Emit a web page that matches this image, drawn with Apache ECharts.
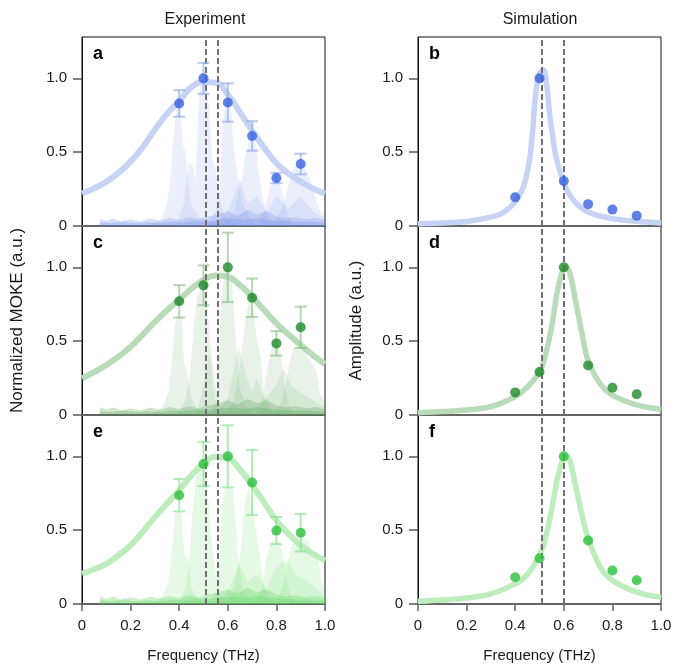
<!DOCTYPE html>
<html>
<head>
<meta charset="utf-8">
<script src="https://cdn.jsdelivr.net/npm/echarts@6/dist/echarts.min.js"></script>
<style>
  html, body { margin: 0; padding: 0; background: #fff; }
  #chart { width: 676px; height: 667px; }
</style>
</head>
<body>
<div id="chart"></div>
<script>
// excitation frequencies (THz)
const freqs = [0.4, 0.5, 0.6, 0.7, 0.8, 0.9];

// experiment: normalized MOKE amplitude and error
const expA = [0.83, 1.0, 0.836, 0.61, 0.325, 0.42];
const errA = [0.09, 0.105, 0.13, 0.1, 0.035, 0.07];
const expC = [0.77, 0.878, 1.0, 0.794, 0.485, 0.594];
const errC = [0.11, 0.135, 0.235, 0.13, 0.083, 0.14];
const expE = [0.737, 0.948, 1.0, 0.823, 0.497, 0.483];
const errE = [0.11, 0.15, 0.21, 0.22, 0.092, 0.127];

// fitted curves of the experiment panels
const fitX = [0, 0.05, 0.1, 0.15, 0.2, 0.25, 0.3, 0.35, 0.4, 0.45, 0.5, 0.55, 0.6, 0.65, 0.7, 0.75, 0.8, 0.85, 0.9, 0.95, 1.0];
const fitA = [0.22, 0.255, 0.30, 0.36, 0.436, 0.535, 0.652, 0.76, 0.845, 0.94, 0.975, 0.97, 0.89, 0.77, 0.645, 0.53, 0.425, 0.355, 0.30, 0.255, 0.22];
const fitC = [0.248, 0.29, 0.338, 0.395, 0.462, 0.545, 0.63, 0.71, 0.78, 0.855, 0.914, 0.945, 0.936, 0.88, 0.80, 0.71, 0.62, 0.545, 0.474, 0.405, 0.345];
const fitE = [0.204, 0.235, 0.272, 0.33, 0.397, 0.49, 0.589, 0.68, 0.771, 0.87, 0.952, 0.995, 0.986, 0.91, 0.805, 0.685, 0.567, 0.475, 0.397, 0.34, 0.295];

// simulation amplitudes
const simB = [0.195, 1.0, 0.305, 0.148, 0.111, 0.07];
const simD = [0.153, 0.291, 1.0, 0.336, 0.185, 0.14];
const simF = [0.181, 0.31, 1.0, 0.43, 0.227, 0.161];

const simCurveB = [[0,0.016],[0.1,0.02],[0.2,0.03],[0.3,0.06],[0.35,0.09],[0.4,0.165],[0.43,0.25],[0.445,0.33],[0.46,0.46],[0.472,0.65],[0.486,0.92],[0.5,1.03],[0.516,1.057],[0.53,0.95],[0.541,0.77],[0.555,0.6],[0.568,0.47],[0.6,0.29],[0.64,0.175],[0.7,0.095],[0.8,0.05],[0.9,0.032],[1.0,0.02]];
const simCurveD = [[0,0.016],[0.1,0.023],[0.2,0.034],[0.3,0.056],[0.4,0.124],[0.45,0.19],[0.5,0.29],[0.525,0.41],[0.55,0.6],[0.575,0.85],[0.6,0.995],[0.61,1.0],[0.625,0.96],[0.65,0.76],[0.675,0.55],[0.7,0.37],[0.75,0.21],[0.8,0.135],[0.9,0.068],[1.0,0.038]];
const simCurveF = [[0,0.018],[0.1,0.027],[0.2,0.04],[0.3,0.068],[0.4,0.136],[0.45,0.2],[0.5,0.33],[0.525,0.45],[0.55,0.64],[0.575,0.86],[0.6,0.995],[0.61,1.0],[0.625,0.97],[0.65,0.79],[0.675,0.6],[0.7,0.45],[0.75,0.25],[0.8,0.16],[0.9,0.08],[1.0,0.045]];

// measured spectra (shaded), one per excitation
const specA = [
  [[0.28,0.01],[0.32,0.04],[0.34,0.1],[0.36,0.25],[0.375,0.55],[0.388,0.8],[0.405,0.81],[0.415,0.55],[0.425,0.5],[0.437,0.3],[0.45,0.14],[0.48,0.06],[0.55,0.02],[0.6,0]],
  [[0.39,0.02],[0.42,0.15],[0.44,0.43],[0.458,0.4],[0.468,0.3],[0.478,0.75],[0.488,0.98],[0.512,0.98],[0.525,0.75],[0.535,0.45],[0.548,0.4],[0.563,0.2],[0.585,0.08],[0.62,0.02],[0.65,0]],
  [[0.52,0.02],[0.55,0.1],[0.567,0.25],[0.578,0.65],[0.588,0.82],[0.612,0.83],[0.622,0.55],[0.632,0.45],[0.645,0.3],[0.66,0.15],[0.69,0.05],[0.72,0]],
  [[0.59,0.02],[0.625,0.1],[0.655,0.3],[0.675,0.5],[0.693,0.6],[0.712,0.58],[0.728,0.35],[0.745,0.18],[0.765,0.06],[0.8,0]],
  [[0.72,0.02],[0.75,0.1],[0.772,0.25],[0.792,0.32],[0.812,0.3],[0.828,0.2],[0.845,0.08],[0.87,0]],
  [[0.79,0.02],[0.825,0.12],[0.852,0.3],[0.873,0.4],[0.9,0.42],[0.922,0.38],[0.942,0.3],[0.962,0.18],[0.98,0.1],[1.0,0.08]],
  [[0.55,0],[0.6,0.1],[0.65,0.32],[0.68,0.15],[0.72,0.2],[0.76,0.1],[0.8,0.2],[0.85,0.12],[0.9,0.2],[0.95,0.1],[1.0,0.05]]
];
const specC = [
  [[0.29,0.01],[0.33,0.05],[0.355,0.15],[0.372,0.4],[0.383,0.62],[0.395,0.67],[0.41,0.65],[0.42,0.35],[0.432,0.3],[0.448,0.12],[0.47,0.05],[0.52,0]],
  [[0.39,0],[0.425,0.1],[0.442,0.25],[0.458,0.55],[0.473,0.8],[0.49,0.87],[0.5,0.86],[0.515,0.75],[0.53,0.45],[0.542,0.3],[0.558,0.1],[0.58,0.03],[0.62,0]],
  [[0.52,0],[0.55,0.08],[0.562,0.3],[0.573,0.8],[0.588,0.99],[0.612,0.99],[0.625,0.7],[0.636,0.45],[0.648,0.2],[0.668,0.08],[0.7,0]],
  [[0.59,0],[0.625,0.1],[0.652,0.35],[0.673,0.65],[0.69,0.8],[0.706,0.7],[0.72,0.5],[0.735,0.4],[0.748,0.15],[0.77,0.05],[0.8,0]],
  [[0.71,0],[0.74,0.08],[0.762,0.3],[0.783,0.48],[0.8,0.49],[0.816,0.42],[0.832,0.22],[0.848,0.08],[0.87,0]],
  [[0.79,0],[0.825,0.1],[0.848,0.3],[0.868,0.45],[0.9,0.47],[0.92,0.42],[0.945,0.35],[0.965,0.3],[0.98,0.15],[1.0,0.08]],
  [[0.55,0],[0.6,0.12],[0.645,0.46],[0.67,0.3],[0.7,0.15],[0.72,0.25],[0.75,0.1],[0.8,0.2],[0.83,0.32],[0.86,0.2],[0.9,0.15],[0.95,0.1],[1.0,0.05]],
  [[0.47,0],[0.5,0.2],[0.525,0.44],[0.54,0.2],[0.56,0]]
];
const specE = [
  [[0.29,0.01],[0.33,0.05],[0.355,0.15],[0.372,0.4],[0.383,0.6],[0.395,0.635],[0.41,0.62],[0.42,0.35],[0.437,0.3],[0.452,0.1],[0.48,0.03],[0.52,0]],
  [[0.39,0],[0.425,0.1],[0.442,0.3],[0.458,0.7],[0.473,0.9],[0.49,0.94],[0.505,0.93],[0.52,0.7],[0.532,0.45],[0.547,0.25],[0.563,0.08],[0.6,0]],
  [[0.52,0],[0.555,0.1],[0.567,0.35],[0.578,0.7],[0.59,0.79],[0.62,0.79],[0.632,0.55],[0.643,0.3],[0.663,0.1],[0.7,0]],
  [[0.59,0],[0.625,0.1],[0.652,0.35],[0.668,0.65],[0.685,0.79],[0.7,0.7],[0.715,0.5],[0.73,0.35],[0.748,0.12],[0.77,0.04],[0.8,0]],
  [[0.71,0],[0.74,0.1],[0.758,0.3],[0.778,0.42],[0.81,0.43],[0.826,0.35],[0.842,0.15],[0.862,0.05],[0.88,0]],
  [[0.79,0],[0.825,0.1],[0.848,0.3],[0.868,0.42],[0.9,0.45],[0.93,0.43],[0.95,0.35],[0.97,0.33],[0.985,0.15],[1.0,0.1]],
  [[0.56,0],[0.6,0.1],[0.65,0.27],[0.68,0.15],[0.72,0.2],[0.76,0.1],[0.8,0.25],[0.84,0.3],[0.88,0.2],[0.93,0.15],[1.0,0.05]]
];
// noise floor of the spectra
const noise1 = [[0.07,0],[0.075,0.05],[0.1,0.035],[0.13,0.05],[0.16,0.03],[0.2,0.045],[0.24,0.03],[0.28,0.05],[0.32,0.035],[0.36,0.055],[0.4,0.04],[0.44,0.06],[0.48,0.045],[0.52,0.065],[0.56,0.08],[0.6,0.1],[0.64,0.07],[0.68,0.11],[0.72,0.08],[0.76,0.1],[0.8,0.065],[0.84,0.05],[0.88,0.06],[0.92,0.045],[0.96,0.055],[1.0,0.04]];
const noise2 = [[0.07,0],[0.08,0.025],[0.12,0.02],[0.17,0.03],[0.22,0.02],[0.27,0.025],[0.32,0.02],[0.37,0.03],[0.42,0.025],[0.47,0.035],[0.52,0.03],[0.57,0.045],[0.62,0.05],[0.67,0.04],[0.72,0.055],[0.77,0.04],[0.82,0.035],[0.87,0.03],[0.92,0.03],[0.97,0.025],[1.0,0.02]];

// dashed reference lines (THz)
const refExp = [0.51, 0.56];
const refSim = [0.51, 0.6];

const yTicks = [0, 0.5, 1.0];
const xTicks = [0, 0.2, 0.4, 0.6, 0.8, 1.0];

const FONT = 'Liberation Sans, Arial, sans-serif';

const colA = { pt: '#3763dd', err: 'rgba(135,162,235,0.6)', fit: '#c6d3f5', spec: 'rgba(120,150,235,0.15)', noise: 'rgba(90,120,225,0.24)' };
const colC = { pt: '#1f8a2a', err: 'rgba(130,190,130,0.6)', fit: '#b9dbb9', spec: 'rgba(90,165,90,0.14)', noise: 'rgba(60,150,60,0.24)' };
const colE = { pt: '#2cc03b', err: 'rgba(130,225,135,0.6)', fit: '#bdedbd', spec: 'rgba(100,215,100,0.16)', noise: 'rgba(70,200,70,0.26)' };

let myChart;

const tops = [37, 226, 415];
const grids = [];
for (let r = 0; r < 3; r++) {
  grids.push({ left: 82, top: tops[r], width: 243, height: 189, show: true, borderColor: '#111', borderWidth: 1 });
  grids.push({ left: 418, top: tops[r], width: 243, height: 189, show: true, borderColor: '#111', borderWidth: 1 });
}

function fmt(v) { return v === 0 ? '0' : v.toFixed(1); }

const xAxes = grids.map(function (g, i) {
  const bottom = i >= 4;
  return {
    type: 'value', gridIndex: i, min: 0, max: 1, interval: 0.2,
    splitLine: { show: false },
    axisLine: { lineStyle: { color: '#666', width: 2 } },
    axisTick: { show: bottom, length: 7, lineStyle: { color: '#666', width: 1.5 } },
    axisLabel: { show: bottom, margin: 14, fontSize: 15, color: '#1a1a1a', fontFamily: FONT, formatter: fmt, customValues: xTicks },
    name: bottom ? 'Frequency (THz)' : '',
    nameLocation: 'middle', nameGap: 44,
    nameTextStyle: { fontSize: 15, color: '#1a1a1a', fontFamily: FONT }
  };
});

const yAxes = grids.map(function (g, i) {
  let name = '';
  if (i === 2) name = 'Normalized MOKE (a.u.)';
  if (i === 3) name = 'Amplitude (a.u.)';
  return {
    type: 'value', gridIndex: i, min: 0, max: 1.28,
    splitLine: { show: false },
    axisLine: { show: true, lineStyle: { color: '#111', width: 1 } },
    axisTick: { show: true, length: 9, lineStyle: { color: '#555', width: 1.5 }, customValues: yTicks },
    axisLabel: { margin: 15, fontSize: 15, color: '#1a1a1a', fontFamily: FONT, formatter: fmt, customValues: yTicks },
    name: name, nameLocation: 'middle', nameRotate: 90, nameGap: i === 2 ? 56 : 53,
    nameTextStyle: { fontSize: 17, color: '#1a1a1a', fontFamily: FONT }
  };
});

function errRender(color) {
  return function (params, api) {
    const x = api.value(0), y = api.value(1), e = api.value(2);
    const hi = api.coord([x, y + e]);
    const lo = api.coord([x, y - e]);
    const w = 6;
    const st = { stroke: color, lineWidth: 2 };
    return {
      type: 'group',
      children: [
        { type: 'line', shape: { x1: hi[0], y1: hi[1], x2: lo[0], y2: lo[1] }, style: st },
        { type: 'line', shape: { x1: hi[0] - w, y1: hi[1], x2: hi[0] + w, y2: hi[1] }, style: st },
        { type: 'line', shape: { x1: lo[0] - w, y1: lo[1], x2: lo[0] + w, y2: lo[1] }, style: st }
      ]
    };
  };
}

function refLine(gi, xs) {
  return {
    type: 'line', xAxisIndex: gi, yAxisIndex: gi, data: [], silent: true,
    markLine: {
      silent: true, symbol: 'none', label: { show: false }, animation: false,
      lineStyle: { color: '#707070', width: 2, type: [6, 3] },
      data: xs.map(function (v) { return { xAxis: v }; })
    },
    z: 5
  };
}

function expPanel(gi, specs, fit, vals, errs, col) {
  const s = [];
  [noise1, noise2].forEach(function (n) {
    s.push({ type: 'line', xAxisIndex: gi, yAxisIndex: gi, data: n, showSymbol: false, silent: true,
      lineStyle: { width: 0 }, areaStyle: { color: col.noise, opacity: 1 }, z: 1 });
  });
  specs.forEach(function (sp) {
    s.push({ type: 'line', xAxisIndex: gi, yAxisIndex: gi, data: sp, showSymbol: false, silent: true,
      lineStyle: { width: 0 }, areaStyle: { color: col.spec, opacity: 1 }, z: 1 });
  });
  s.push({ type: 'line', xAxisIndex: gi, yAxisIndex: gi, data: fitX.map(function (x, k) { return [x, fit[k]]; }),
    smooth: true, showSymbol: false, lineStyle: { color: col.fit, width: 6 }, z: 3 });
  s.push(refLine(gi, refExp));
  s.push({ type: 'custom', xAxisIndex: gi, yAxisIndex: gi, renderItem: errRender(col.err),
    encode: { x: 0, y: 1 }, data: freqs.map(function (x, k) { return [x, vals[k], errs[k]]; }), z: 6 });
  s.push({ type: 'scatter', xAxisIndex: gi, yAxisIndex: gi, symbolSize: 10,
    itemStyle: { color: col.pt }, data: freqs.map(function (x, k) { return [x, vals[k]]; }), z: 7 });
  return s;
}

function simPanel(gi, curve, vals, refs, col) {
  return [
    { type: 'line', xAxisIndex: gi, yAxisIndex: gi, data: curve, smooth: 0.35, showSymbol: false,
      lineStyle: { color: col.fit, width: 5.5 }, z: 3 },
    refLine(gi, refs),
    { type: 'scatter', xAxisIndex: gi, yAxisIndex: gi, symbolSize: 10,
      itemStyle: { color: col.pt }, data: freqs.map(function (x, k) { return [x, vals[k]]; }), z: 7 }
  ];
}

const series = [].concat(
  expPanel(0, specA, fitA, expA, errA, colA),
  simPanel(1, simCurveB, simB, refSim, colA),
  expPanel(2, specC, fitC, expC, errC, colC),
  simPanel(3, simCurveD, simD, refSim, colC),
  expPanel(4, specE, fitE, expE, errE, colE),
  simPanel(5, simCurveF, simF, refSim, colE)
);

const letters = ['a', 'b', 'c', 'd', 'e', 'f'];
const graphics = [
  { type: 'text', x: 205, y: 20, style: { text: 'Experiment', font: '16px ' + FONT, fill: '#1a1a1a', textAlign: 'center', textVerticalAlign: 'middle' } },
  { type: 'text', x: 540, y: 20, style: { text: 'Simulation', font: '16px ' + FONT, fill: '#1a1a1a', textAlign: 'center', textVerticalAlign: 'middle' } }
];
letters.forEach(function (l, i) {
  const g = grids[i];
  graphics.push({ type: 'text', x: g.left + 11, y: g.top + 17, z: 10,
    style: { text: l, font: 'bold 18px ' + FONT, fill: '#000', textVerticalAlign: 'middle' } });
});

const option = {
  animation: false,
  grid: grids,
  xAxis: xAxes,
  yAxis: yAxes,
  graphic: graphics,
  series: series
};

myChart = echarts.init(document.getElementById('chart'));
myChart.setOption(option);

window.addEventListener('resize', function () {
  myChart.resize();
});
</script>
</body>
</html>
